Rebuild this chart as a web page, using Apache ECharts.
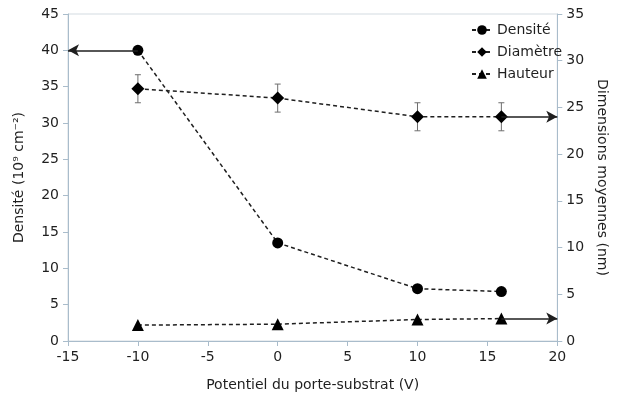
<!DOCTYPE html>
<html>
<head>
<meta charset="utf-8">
<script src="https://cdn.jsdelivr.net/npm/echarts@6/dist/echarts.min.js"></script>
<style>
  html, body { margin: 0; padding: 0; background: #fff; }
  #chart { width: 617px; height: 407px; }
</style>
</head>
<body>
<div id="chart"></div>
<script>
// Substrate-holder bias (V)
const potentiel = [-10, 0, 10, 16];
// Island density (10^9 cm^-2), left axis
const densite = [40, 13.5, 7.2, 6.8];
// Mean diameter (nm), right axis, with its uncertainty
const diametre = [27, 26, 24, 24];
const diametreErr = [1.5, 1.5, 1.5, 1.5];
// Mean height (nm), right axis
const hauteur = [1.7, 1.8, 2.3, 2.4];

// Axis ranges
const xRange = { min: -15, max: 20, step: 5 };
const yLeftRange = { min: 0, max: 45, step: 5 };
const yRightRange = { min: 0, max: 35, step: 5 };

const FONT = 'DejaVu Sans';
const INK = '#1f1f1f';
const AXIS = '#a9bccb';
const DASH = [4, 3];

const pairs = (xs, ys) => xs.map((x, i) => [x, ys[i]]);

function arrow(from, to) {
  return [{ coord: from }, { coord: to }];
}

const arrowStyle = {
  silent: true,
  symbol: ['none', 'arrow'],
  symbolSize: [9, 11],
  label: { show: false },
  lineStyle: { color: INK, width: 1.5, type: 'solid' },
  emphasis: { disabled: true }
};

const axisCommon = {
  axisLine: { show: true, onZero: false, lineStyle: { color: AXIS, width: 1 } },
  axisTick: { show: true, length: 5, lineStyle: { color: AXIS } },
  axisLabel: { fontFamily: FONT, fontSize: 14, color: INK, margin: 9 },
  splitLine: { show: false }
};

const chart = echarts.init(document.getElementById('chart'), null, { renderer: 'canvas' });

chart.setOption({
  animation: false,
  textStyle: { fontFamily: FONT },
  grid: {
    left: 68, right: 57, top: 14, bottom: 66,
    show: true, borderColor: '#d3dbe1', borderWidth: 1, backgroundColor: 'transparent'
  },
  legend: {
    orient: 'vertical',
    left: 466, top: 18,
    itemWidth: 20, itemHeight: 12, itemGap: 8,
    textStyle: { fontFamily: FONT, fontSize: 14, color: INK },
    data: ['Densité', 'Diamètre', 'Hauteur']
  },
  xAxis: Object.assign({}, axisCommon, {
    type: 'value',
    min: xRange.min, max: xRange.max, interval: xRange.step,
    name: 'Potentiel du porte-substrat (V)',
    nameLocation: 'middle', nameGap: 37,
    nameTextStyle: { fontFamily: FONT, fontSize: 14, color: INK }
  }),
  yAxis: [
    Object.assign({}, axisCommon, {
      type: 'value', position: 'left',
      min: yLeftRange.min, max: yLeftRange.max, interval: yLeftRange.step,
      name: 'Densité (10⁹ cm⁻²)',
      nameLocation: 'middle', nameGap: 42, nameRotate: 90,
      nameTextStyle: { fontFamily: FONT, fontSize: 14, color: INK }
    }),
    Object.assign({}, axisCommon, {
      type: 'value', position: 'right',
      min: yRightRange.min, max: yRightRange.max, interval: yRightRange.step,
      name: 'Dimensions moyennes (nm)',
      nameLocation: 'middle', nameGap: 36, nameRotate: -90,
      nameTextStyle: { fontFamily: FONT, fontSize: 14, color: INK }
    })
  ],
  series: [
    {
      name: 'Densité', type: 'line', yAxisIndex: 0,
      data: pairs(potentiel, densite),
      symbol: 'circle', symbolSize: 11,
      itemStyle: { color: '#000' },
      lineStyle: { color: INK, width: 1.5, type: DASH },
      z: 3,
      markLine: Object.assign({}, arrowStyle, {
        data: [arrow([potentiel[0], densite[0]], [xRange.min, densite[0]])]
      })
    },
    {
      name: 'Diamètre', type: 'line', yAxisIndex: 1,
      data: pairs(potentiel, diametre),
      symbol: 'diamond', symbolSize: 13,
      itemStyle: { color: '#000' },
      lineStyle: { color: INK, width: 1.5, type: DASH },
      z: 3,
      markLine: Object.assign({}, arrowStyle, {
        data: [arrow([potentiel[3], diametre[3]], [xRange.max, diametre[3]])]
      })
    },
    {
      name: 'Hauteur', type: 'line', yAxisIndex: 1,
      data: pairs(potentiel, hauteur),
      symbol: 'triangle', symbolSize: 12,
      itemStyle: { color: '#000' },
      lineStyle: { color: INK, width: 1.5, type: DASH },
      z: 3,
      markLine: Object.assign({}, arrowStyle, {
        data: [arrow([potentiel[3], hauteur[3]], [xRange.max, hauteur[3]])]
      })
    },
    {
      // Uncertainty bars on the diameter
      name: 'errDiametre', type: 'custom', yAxisIndex: 1,
      silent: true, z: 2,
      data: potentiel.map((x, i) => [x, diametre[i] - diametreErr[i], diametre[i] + diametreErr[i]]),
      renderItem: function (params, api) {
        const x = api.value(0);
        const lo = api.coord([x, api.value(1)]);
        const hi = api.coord([x, api.value(2)]);
        const cap = 3;
        const style = { stroke: '#6e6e6e', lineWidth: 1 };
        return {
          type: 'group',
          children: [
            { type: 'line', shape: { x1: hi[0], y1: hi[1], x2: lo[0], y2: lo[1] }, style: style },
            { type: 'line', shape: { x1: hi[0] - cap, y1: hi[1], x2: hi[0] + cap, y2: hi[1] }, style: style },
            { type: 'line', shape: { x1: lo[0] - cap, y1: lo[1], x2: lo[0] + cap, y2: lo[1] }, style: style }
          ]
        };
      }
    }
  ]
});
</script>
</body>
</html>
